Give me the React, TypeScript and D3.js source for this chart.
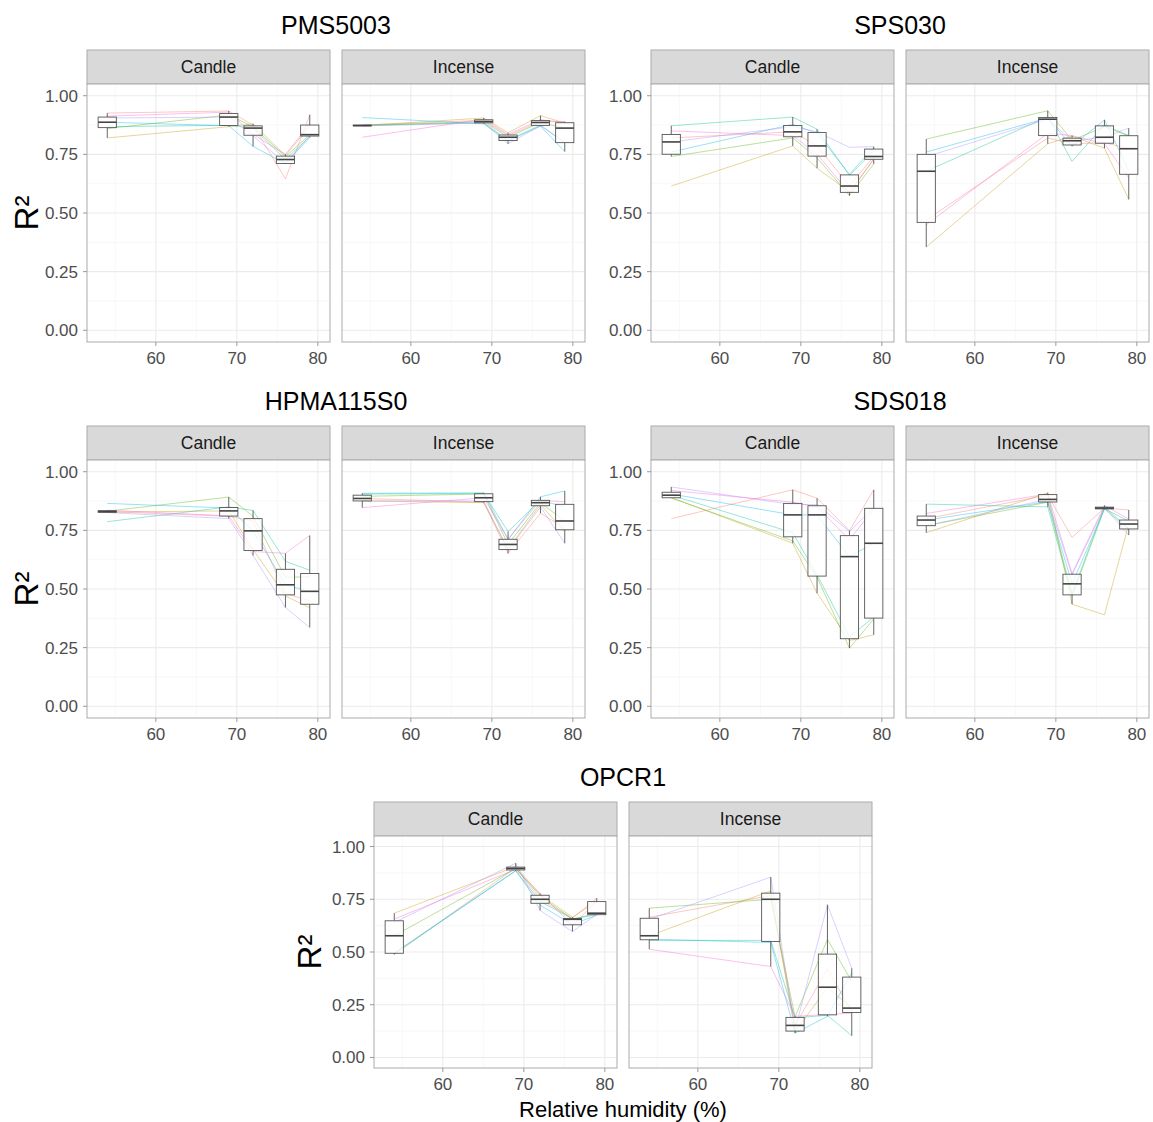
import React from "react";
import * as d3 from "d3";

// ---------- DATA ----------
const HUMIDITY = [54, 69, 72, 76, 79];
const SOURCES = ["Candle", "Incense"];
const SENSORS = ["PMS5003", "SPS030", "HPMA115S0", "SDS018", "OPCR1"];
const UNIT_COLORS = ["#F8766D", "#C49A00", "#53B400", "#00C094", "#00B6EB", "#A58AFF", "#FB61D7"];
const Y_TICKS = [0, 0.25, 0.5, 0.75, 1];
const Y_MINOR = [0.125, 0.375, 0.625, 0.875];
const X_TICKS = [60, 70, 80];
const X_MINOR = [55, 65, 75];

// each row = one sensor unit, values at HUMIDITY levels
const PMS5003_CANDLE = [
  [0.926, 0.935, 0.875, 0.645, 0.919],
  [0.82, 0.868, 0.88, 0.745, 0.87],
  [0.86, 0.918, 0.868, 0.74, 0.834],
  [0.868, 0.874, 0.862, 0.728, 0.826],
  [0.887, 0.872, 0.784, 0.71, 0.822],
  [0.905, 0.909, 0.828, 0.712, 0.83],
  [0.913, 0.93, 0.835, 0.75, 0.88],
];
const PMS5003_INCENSE = [
  [0.875, 0.895, 0.83, 0.89, 0.89],
  [0.873, 0.905, 0.842, 0.915, 0.884],
  [0.872, 0.89, 0.823, 0.886, 0.862],
  [0.874, 0.885, 0.81, 0.875, 0.8],
  [0.907, 0.88, 0.808, 0.87, 0.762],
  [0.871, 0.884, 0.795, 0.872, 0.8],
  [0.823, 0.9, 0.835, 0.898, 0.886],
];
const SPS030_CANDLE = [
  [0.82, 0.846, 0.786, 0.615, 0.741],
  [0.615, 0.786, 0.691, 0.59, 0.73],
  [0.741, 0.82, 0.735, 0.574, 0.709],
  [0.872, 0.909, 0.857, 0.66, 0.765],
  [0.76, 0.878, 0.84, 0.665, 0.78],
  [0.803, 0.868, 0.846, 0.78, 0.783],
  [0.85, 0.83, 0.75, 0.586, 0.728],
];
const SPS030_INCENSE = [
  [0.47, 0.82, 0.795, 0.8, 0.774],
  [0.355, 0.795, 0.828, 0.776, 0.558],
  [0.815, 0.936, 0.81, 0.868, 0.829],
  [0.678, 0.91, 0.72, 0.875, 0.83],
  [0.76, 0.905, 0.785, 0.897, 0.68],
  [0.74, 0.9, 0.808, 0.823, 0.862],
  [0.45, 0.84, 0.83, 0.795, 0.65],
];
const HPMA115S0_CANDLE = [
  [0.83, 0.81, 0.79, 0.48, 0.45],
  [0.828, 0.833, 0.668, 0.47, 0.42],
  [0.832, 0.892, 0.81, 0.55, 0.552],
  [0.787, 0.85, 0.835, 0.618, 0.58],
  [0.865, 0.845, 0.748, 0.518, 0.49],
  [0.826, 0.8, 0.643, 0.421, 0.336],
  [0.836, 0.812, 0.66, 0.652, 0.728],
];
const HPMA115S0_INCENSE = [
  [0.886, 0.87, 0.652, 0.823, 0.76],
  [0.875, 0.868, 0.67, 0.86, 0.745],
  [0.895, 0.905, 0.69, 0.868, 0.79],
  [0.905, 0.907, 0.745, 0.878, 0.85],
  [0.908, 0.91, 0.71, 0.893, 0.918],
  [0.876, 0.875, 0.666, 0.85, 0.695],
  [0.847, 0.889, 0.714, 0.878, 0.872],
];
const SDS018_CANDLE = [
  [0.8, 0.923, 0.887, 0.749, 0.923],
  [0.89, 0.695, 0.482, 0.28, 0.305],
  [0.888, 0.705, 0.55, 0.248, 0.372],
  [0.9, 0.74, 0.56, 0.296, 0.38],
  [0.905, 0.816, 0.816, 0.638, 0.695],
  [0.935, 0.86, 0.86, 0.745, 0.848],
  [0.92, 0.87, 0.85, 0.71, 0.84],
];
const SDS018_INCENSE = [
  [0.8, 0.9, 0.72, 0.845, 0.837],
  [0.74, 0.91, 0.435, 0.39, 0.777],
  [0.77, 0.87, 0.48, 0.85, 0.757],
  [0.862, 0.85, 0.47, 0.842, 0.79],
  [0.794, 0.872, 0.522, 0.841, 0.755],
  [0.77, 0.882, 0.56, 0.848, 0.73],
  [0.822, 0.905, 0.566, 0.856, 0.798],
];
const OPCR1_CANDLE = [
  [0.488, 0.9, 0.75, 0.66, 0.755],
  [0.684, 0.905, 0.772, 0.665, 0.74],
  [0.577, 0.896, 0.766, 0.655, 0.684],
  [0.496, 0.886, 0.74, 0.657, 0.676],
  [0.492, 0.885, 0.722, 0.63, 0.675],
  [0.64, 0.921, 0.697, 0.597, 0.678],
  [0.656, 0.892, 0.778, 0.628, 0.738],
];
const OPCR1_INCENSE = [
  [0.665, 0.768, 0.152, 0.42, 0.216],
  [0.577, 0.79, 0.12, 0.333, 0.234],
  [0.708, 0.75, 0.192, 0.56, 0.36],
  [0.555, 0.555, 0.188, 0.2, 0.103],
  [0.561, 0.545, 0.115, 0.195, 0.402],
  [0.655, 0.855, 0.13, 0.724, 0.423],
  [0.513, 0.431, 0.195, 0.204, 0.21],
];

const SENSOR_DATA: Record<string, number[][][]> = {
  PMS5003: [PMS5003_CANDLE, PMS5003_INCENSE],
  SPS030: [SPS030_CANDLE, SPS030_INCENSE],
  HPMA115S0: [HPMA115S0_CANDLE, HPMA115S0_INCENSE],
  SDS018: [SDS018_CANDLE, SDS018_INCENSE],
  OPCR1: [OPCR1_CANDLE, OPCR1_INCENSE],
};

// ---------- LAYOUT ----------
const W = 1153;
const H = 1122;
const PANEL_W = 243;
const PANEL_GAP = 12;
const STRIP_H = 34;
const BOX_WIDTH = 2.25; // in humidity units
const FONT = "'Liberation Sans', Arial, Helvetica, sans-serif";
const TICK_FS = 17;
const STRIP_FS = 17.5;
const TITLE_FS = 25;

type Layout = {
  sensor: string;
  x0: number;
  top: number;
  bottom: number;
  yTitleX: number | null;
  xTitle: boolean;
};

const LAYOUTS: Layout[] = [
  { sensor: "PMS5003", x0: 87, top: 50, bottom: 342, yTitleX: 38, xTitle: false },
  { sensor: "SPS030", x0: 651, top: 50, bottom: 342, yTitleX: null, xTitle: false },
  { sensor: "HPMA115S0", x0: 87, top: 426, bottom: 718, yTitleX: 38, xTitle: false },
  { sensor: "SDS018", x0: 651, top: 426, bottom: 718, yTitleX: null, xTitle: false },
  { sensor: "OPCR1", x0: 374, top: 802, bottom: 1068, yTitleX: 321, xTitle: true },
];

function boxStats(values: number[]) {
  const s = values.slice().sort(d3.ascending);
  const q1 = d3.quantile(s, 0.25) as number;
  const med = d3.quantile(s, 0.5) as number;
  const q3 = d3.quantile(s, 0.75) as number;
  const iqr = q3 - q1;
  const lo = d3.min(s.filter((v) => v >= q1 - 1.5 * iqr)) as number;
  const hi = d3.max(s.filter((v) => v <= q3 + 1.5 * iqr)) as number;
  return { q1, med, q3, lo, hi };
}

function Panel({ units, left, top, bottom, label, showY }: { units: number[][]; left: number; top: number; bottom: number; label: string; showY: boolean }) {
  const panelTop = top + STRIP_H;
  const x = d3.scaleLinear().domain([51.5, 81.5]).range([left, left + PANEL_W]);
  const y = d3.scaleLinear().domain([-0.05, 1.05]).range([bottom, panelTop]);
  const line = d3
    .line<number>()
    .x((_, i) => x(HUMIDITY[i]))
    .y((d) => y(d));
  const boxes = HUMIDITY.map((h, i) => ({ h, ...boxStats(units.map((u) => u[i])) }));
  const bw = x(BOX_WIDTH) - x(0);
  return (
    <g>
      {/* strip */}
      <rect x={left} y={top} width={PANEL_W} height={STRIP_H} fill="#D9D9D9" stroke="#ABABAB" strokeWidth={1} />
      <text x={left + PANEL_W / 2} y={top + STRIP_H / 2 + 6.3} textAnchor="middle" fontSize={STRIP_FS} fill="#1A1A1A" fontFamily={FONT}>
        {label}
      </text>
      {/* background */}
      <rect x={left} y={panelTop} width={PANEL_W} height={bottom - panelTop} fill="#FFFFFF" />
      {/* grid */}
      {X_MINOR.map((v) => (
        <line key={"xm" + v} x1={x(v)} x2={x(v)} y1={panelTop} y2={bottom} stroke="#F2F2F2" strokeWidth={0.6} />
      ))}
      {Y_MINOR.map((v) => (
        <line key={"ym" + v} x1={left} x2={left + PANEL_W} y1={y(v)} y2={y(v)} stroke="#F2F2F2" strokeWidth={0.6} />
      ))}
      {X_TICKS.map((v) => (
        <line key={"xg" + v} x1={x(v)} x2={x(v)} y1={panelTop} y2={bottom} stroke="#EBEBEB" strokeWidth={1.1} />
      ))}
      {Y_TICKS.map((v) => (
        <line key={"yg" + v} x1={left} x2={left + PANEL_W} y1={y(v)} y2={y(v)} stroke="#EBEBEB" strokeWidth={1.1} />
      ))}
      {/* unit lines */}
      {units.map((u, k) => (
        <path key={"l" + k} d={line(u) || ""} fill="none" stroke={UNIT_COLORS[k]} strokeOpacity={0.45} strokeWidth={0.9} />
      ))}
      {/* boxplots */}
      {boxes.map((b) => (
        <g key={"b" + b.h}>
          <line x1={x(b.h)} x2={x(b.h)} y1={y(b.hi)} y2={y(b.q3)} stroke="#555" strokeWidth={0.9} />
          <line x1={x(b.h)} x2={x(b.h)} y1={y(b.q1)} y2={y(b.lo)} stroke="#555" strokeWidth={0.9} />
          <rect x={x(b.h) - bw / 2} y={y(b.q3)} width={bw} height={Math.max(0.5, y(b.q1) - y(b.q3))} fill="#FFFFFF" fillOpacity={0.75} stroke="#555" strokeWidth={0.9} />
          <line x1={x(b.h) - bw / 2} x2={x(b.h) + bw / 2} y1={y(b.med)} y2={y(b.med)} stroke="#444" strokeWidth={1.6} />
        </g>
      ))}
      {/* border */}
      <rect x={left} y={panelTop} width={PANEL_W} height={bottom - panelTop} fill="none" stroke="#ABABAB" strokeWidth={1} />
      {/* x axis */}
      {X_TICKS.map((v) => (
        <g key={"xt" + v}>
          <line x1={x(v)} x2={x(v)} y1={bottom} y2={bottom + 4} stroke="#999" strokeWidth={1} />
          <text x={x(v)} y={bottom + 22} textAnchor="middle" fontSize={TICK_FS} fill="#4D4D4D" fontFamily={FONT}>
            {v}
          </text>
        </g>
      ))}
      {showY &&
        Y_TICKS.map((v) => (
          <g key={"yt" + v}>
            <line x1={left - 4} x2={left} y1={y(v)} y2={y(v)} stroke="#999" strokeWidth={1} />
            <text x={left - 9} y={y(v) + 6} textAnchor="end" fontSize={TICK_FS} fill="#4D4D4D" fontFamily={FONT}>
              {d3.format(".2f")(v)}
            </text>
          </g>
        ))}
    </g>
  );
}

function SensorPlot({ layout }: { layout: Layout }) {
  const data = SENSOR_DATA[layout.sensor];
  const panelTop = layout.top + STRIP_H;
  const totalW = PANEL_W * 2 + PANEL_GAP;
  const cx = layout.x0 + totalW / 2;
  return (
    <g>
      <text x={cx} y={layout.top - 16} textAnchor="middle" fontSize={TITLE_FS} fill="#000" fontFamily={FONT}>
        {layout.sensor}
      </text>
      {SOURCES.map((src, i) => (
        <Panel
          key={src}
          units={data[i]}
          left={layout.x0 + i * (PANEL_W + PANEL_GAP)}
          top={layout.top}
          bottom={layout.bottom}
          label={src}
          showY={i === 0}
        />
      ))}
      {layout.yTitleX !== null && (
        <text
          transform={`translate(${layout.yTitleX},${(panelTop + layout.bottom) / 2}) rotate(-90)`}
          textAnchor="middle"
          fontSize={33}
          fill="#000"
          fontFamily={FONT}
        >
          R²
        </text>
      )}
      {layout.xTitle && (
        <text x={cx} y={layout.bottom + 49} textAnchor="middle" fontSize={22} fill="#000" fontFamily={FONT}>
          Relative humidity (%)
        </text>
      )}
    </g>
  );
}

export default function App() {
  return (
    <svg width={W} height={H} style={{ position: "absolute", left: 0, top: 0, background: "#fff" }}>
      <rect x={0} y={0} width={W} height={H} fill="#fff" />
      {LAYOUTS.map((l) => (
        <SensorPlot key={l.sensor} layout={l} />
      ))}
    </svg>
  );
}
